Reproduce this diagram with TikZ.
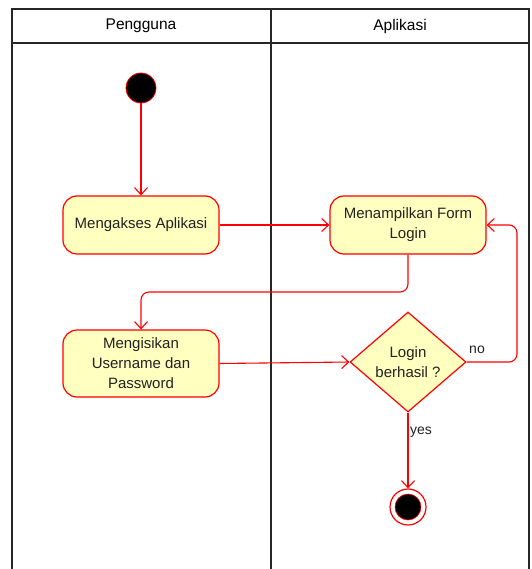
\documentclass[tikz,border=0pt]{standalone}
\usepackage{fontspec}
\setmainfont{Liberation Sans}
\usepackage{xcolor}
\usepackage{tikz}
\usetikzlibrary{arrows.meta,positioning,shapes.geometric}

\definecolor{actfill}{HTML}{FFFFC0}
\definecolor{actline}{HTML}{FF0000}
\definecolor{txt}{HTML}{222222}

\begin{document}
\begin{tikzpicture}[x=1pt, y=-1pt,
    lane/.style={draw=black!85, line width=1.3pt},
    activity/.style={draw=actline, fill=actfill, rounded corners=14pt, line width=1.2pt,
        minimum width=156pt, minimum height=58pt, align=center, text=txt,
        font=\fontsize{15}{20}\selectfont},
    decision/.style={diamond, draw=actline, fill=actfill, line width=1.2pt, aspect=1.16,
        minimum width=116pt, minimum height=100pt, inner sep=0pt, align=center, text=txt,
        font=\fontsize{15}{20}\selectfont},
    flow/.style={draw=actline, line width=1.1pt, -{Straight Barb[length=7pt, width=13pt]}},
    lbl/.style={text=txt, font=\fontsize{14}{16}\selectfont}
]
    \useasboundingbox (0,0) rectangle (531,569);

    % Swimlanes
    \draw[lane] (12,569) -- (12,9) -- (529,9) -- (529,569);
    \draw[lane] (271,9) -- (271,569);
    \draw[lane] (12,43) -- (529,43);
    \node[lbl, text=black, font=\fontsize{15.5}{18}\selectfont] (laneuser) at (141,26) {Pengguna};
    \node[lbl, text=black, font=\fontsize{15.5}{18}\selectfont] (laneapp) at (400,26) {Aplikasi};

    % Start and end
    \node[circle, fill=black, draw=actline, line width=0.8pt, minimum size=30pt, inner sep=0pt] (start) at (141,88) {};
    \node[circle, fill=white, draw=actline, line width=1.2pt, minimum size=36pt, inner sep=0pt] (finish) at (408,507) {};
    \node[circle, fill=black, draw=actline, line width=0.6pt, minimum size=26pt, inner sep=0pt] (finishdot) at (408,507) {};

    % Activities
    \node[activity] (akses) at (141,225) {Mengakses Aplikasi};
    \node[activity] (form) at (408,225) {Menampilkan Form\\Login};
    \node[activity, minimum height=67pt] (isi) at (141,363.5) {Mengisikan\\Username dan\\Password};
    \node[decision] (cek) at (408,362) {Login\\berhasil ?};

    % Flows
    \draw[flow] (start) -- (akses);
    \draw[flow] (akses) -- (form);
    \draw[flow, rounded corners=8pt] (form.south) -- (408,292) -- (141,292) -- (isi.north);
    \draw[flow] (isi.east) -- (cek.west);
    \draw[flow, rounded corners=8pt] (cek.east) -- (517,362) -- (517,225) -- (form.east);
    \draw[flow] (cek.south) -- (finish.north);

    % Guards
    \node[lbl] (guardno) at (477,350) {no};
    \node[lbl] (guardyes) at (421,432) {yes};
\end{tikzpicture}
\end{document}
